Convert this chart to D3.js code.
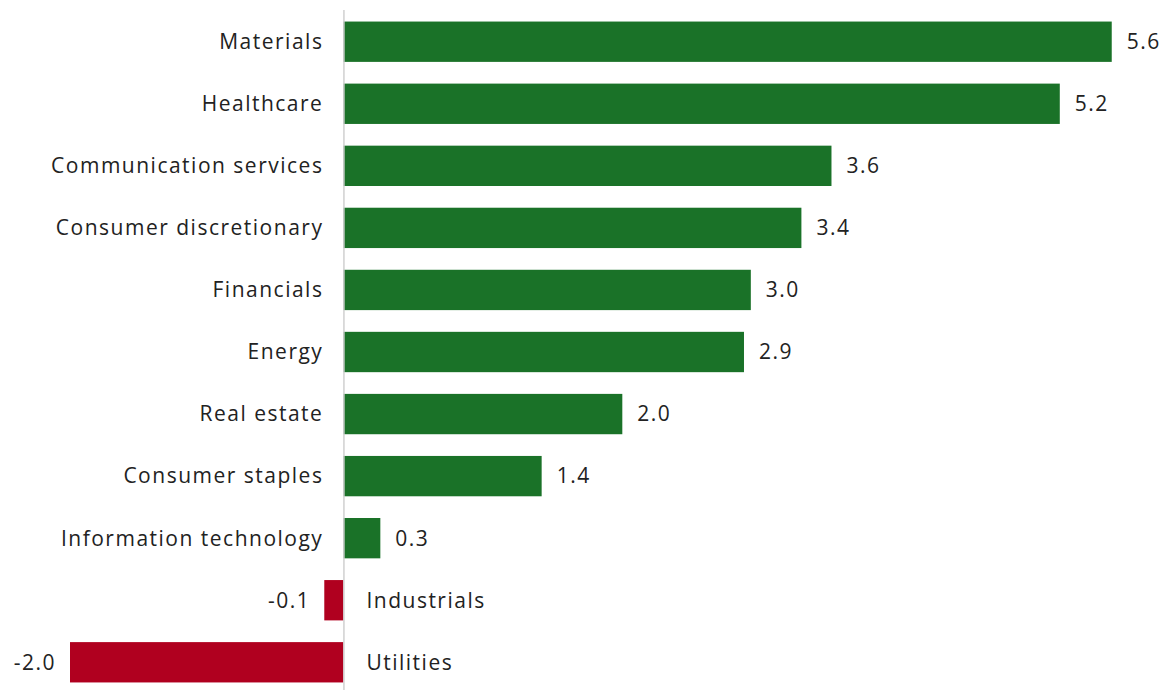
<!DOCTYPE html>
<html>
<head>
<meta charset="utf-8">
<script src="https://cdn.jsdelivr.net/npm/d3@7"></script>
<style>
  html, body { margin: 0; padding: 0; background: #fff; }
  svg { display: block; }
</style>
</head>
<body>
<div class="plot-container"></div>
<script>
const categories = [
  "Materials",
  "Healthcare",
  "Communication services",
  "Consumer discretionary",
  "Financials",
  "Energy",
  "Real estate",
  "Consumer staples",
  "Information technology",
  "Industrials",
  "Utilities"
];
const values = [5.62, 5.24, 3.57, 3.35, 2.98, 2.93, 2.04, 1.45, 0.27, -0.14, -2.0];

const width = 1163, height = 690;
const POS_COLOR = "#1a7228";
const NEG_COLOR = "#b0001f";
const TEXT_COLOR = "#222";
const AXIS_COLOR = "#d0d0d0";
const FONT = "'Open Sans', 'Noto Sans', sans-serif";
const LETTER_SPACING = "1.5px";

const svg = d3.select("div.plot-container").append("svg")
  .attr("width", width)
  .attr("height", height);

const x = d3.scaleLinear()
  .domain([-2, 5.6])
  .range([70, 1109]);

const y = d3.scaleBand()
  .domain(categories)
  .range([11, 693])
  .paddingInner(0.35)
  .paddingOuter(0.17);

// plain hyphen for negatives, like the original
const fmt = d => d3.format(".1f")(d).replace("\u2212", "-");

// bars
svg.append("g")
  .selectAll("rect")
  .data(values)
  .join("rect")
  .attr("x", d => x(Math.min(0, d)))
  .attr("y", (d, i) => y(categories[i]))
  .attr("width", d => Math.abs(x(d) - x(0)))
  .attr("height", y.bandwidth())
  .attr("fill", d => d < 0 ? NEG_COLOR : POS_COLOR);

// zero line
svg.append("line")
  .attr("x1", x(0) + 0.5).attr("x2", x(0) + 0.5)
  .attr("y1", 10).attr("y2", height)
  .attr("stroke", AXIS_COLOR)
  .attr("stroke-width", 1.5);

// category labels
svg.append("g")
  .style("font-family", FONT)
  .style("font-size", "21px")
  .style("letter-spacing", LETTER_SPACING)
  .attr("fill", TEXT_COLOR)
  .selectAll("text")
  .data(values)
  .join("text")
  .attr("x", d => d < 0 ? x(0) + 23 : x(0) - 20)
  .attr("y", (d, i) => y(categories[i]) + y.bandwidth() / 2)
  .attr("dy", "0.35em")
  .attr("text-anchor", d => d < 0 ? "start" : "end")
  .text((d, i) => categories[i]);

// value labels
svg.append("g")
  .style("font-family", FONT)
  .style("font-size", "21px")
  .style("letter-spacing", LETTER_SPACING)
  .attr("fill", TEXT_COLOR)
  .selectAll("text")
  .data(values)
  .join("text")
  .attr("x", d => d < 0 ? x(d) - 14 : x(d) + 15)
  .attr("y", (d, i) => y(categories[i]) + y.bandwidth() / 2)
  .attr("dy", "0.35em")
  .attr("text-anchor", d => d < 0 ? "end" : "start")
  .text(d => fmt(d));
</script>
</body>
</html>
